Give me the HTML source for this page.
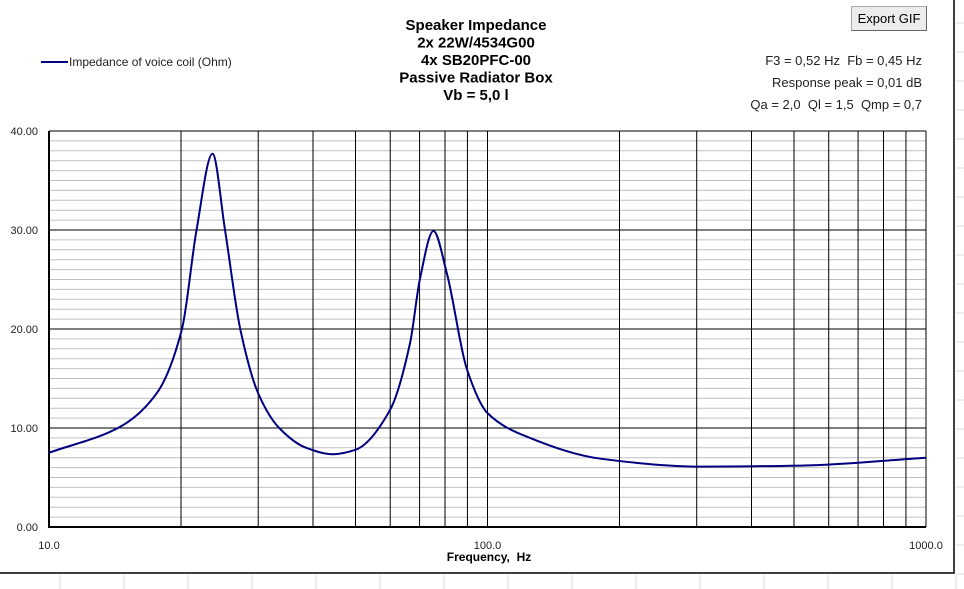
<!DOCTYPE html>
<html><head><meta charset="utf-8"><style>
body{margin:0;width:964px;height:589px;overflow:hidden;background:#fff;font-family:"Liberation Sans",sans-serif}
svg{position:absolute;left:0;top:0}
.btn{position:absolute;left:851px;top:6px;width:76px;height:25px;background:#ececec;border:1px solid #aaa;border-right-color:#666;border-bottom-color:#666;box-sizing:border-box;font-size:13px;text-align:center;line-height:23px}
</style></head><body>
<svg id="c" width="964" height="589"></svg>
<div class="btn">Export GIF</div>
<script>
const freqs=[10,14.5,17.6,20.1,21.7,23.6,25.2,27.3,30,33.5,38.6,44.4,50,59.9,66.6,70.1,75.3,80.8,89.8,100,125,181,306,519,1000];
const imped=[7.5,10.1,13.5,20,30,37.7,30,20,13.5,10,8,7.35,7.8,11.8,18.6,25,29.9,25.6,15.9,11.5,9,6.9,6.1,6.2,7.0];
const yTicks=[0,10,20,30,40];
const yTickLabels=["0.00","10.00","20.00","30.00","40.00"];
const xLabelVals=[10,100,1000];
const xLabels=["10.0","100.0","1000.0"];
const NS="http://www.w3.org/2000/svg";
const svg=document.getElementById('c');
const L=49,R=926,T=131,B=527;
const xs=f=>L+(R-L)*Math.log10(f/10)/2;
const ys=v=>B-(B-T)*v/40;
function el(t,a,txt){const e=document.createElementNS(NS,t);for(const k in a)e.setAttribute(k,a[k]);if(txt!=null)e.textContent=txt;svg.appendChild(e);return e;}
for(let x=60;x<964;x+=64){const g=el('line',{x1:x,y1:575,x2:x,y2:589,stroke:'#ddd'});}
for(let y=23;y<575;y+=29){const g=el('line',{x1:956,y1:y,x2:964,y2:y,stroke:'#ddd'});}
const fr=el('path',{d:'M0 573 H954 V0',fill:'none',stroke:'#000','stroke-width':1.5});

for(let v=1;v<40;v++){if(v%10===0)continue;const g=el('line',{x1:L,y1:ys(v),x2:R,y2:ys(v),stroke:'#c0c0c0'});}
for(const v of [10,20,30,40]){const g=el('line',{x1:L,y1:ys(v),x2:R,y2:ys(v),stroke:'#000'});}
for(const d of [10,100]){for(let k=2;k<=10;k++){const x=xs(d*k);const g=el('line',{x1:x,y1:T,x2:x,y2:B,stroke:'#000','stroke-width':1});}}
const ax=el('path',{d:`M${L} ${T} V${B} H${R}`,fill:'none',stroke:'#000','stroke-width':2});

yTicks.forEach((v,i)=>{const t=el('text',{x:38,y:ys(v)+4,'font-size':11,'text-anchor':'end',fill:'#222'},yTickLabels[i]);});
xLabelVals.forEach((v,i)=>{const t=el('text',{x:xs(v),y:549,'font-size':11,'text-anchor':'middle',fill:'#222'},xLabels[i]);});
const xt=el('text',{x:489,y:561,'font-size':12,'font-weight':'bold','text-anchor':'middle','style':'white-space:pre'},'Frequency,  Hz');

// monotone cubic interpolation in pixel space
const X=freqs.map(xs),Y=imped.map(ys),n=X.length;
const dl=[];for(let i=0;i<n-1;i++)dl.push((Y[i+1]-Y[i])/(X[i+1]-X[i]));
const m=new Array(n);m[0]=dl[0];m[n-1]=dl[n-2];
for(let i=1;i<n-1;i++){if(dl[i-1]*dl[i]<=0)m[i]=0;else{const h0=X[i]-X[i-1],h1=X[i+1]-X[i];const w1=2*h1+h0,w2=h1+2*h0;m[i]=(w1+w2)/(w1/dl[i-1]+w2/dl[i]);}}
let d=`M${X[0]} ${Y[0]}`;
for(let i=0;i<n-1;i++){const h=X[i+1]-X[i];d+=` C${X[i]+h/3} ${Y[i]+m[i]*h/3} ${X[i+1]-h/3} ${Y[i+1]-m[i+1]*h/3} ${X[i+1]} ${Y[i+1]}`;}
const cv=el('path',{d,fill:'none',stroke:'#000080','stroke-width':2});

["Speaker Impedance","2x 22W/4534G00","4x SB20PFC-00","Passive Radiator Box","Vb = 5,0 l"].forEach((s,i)=>{const t=el('text',{x:476,y:30+i*17.5,'font-size':15,'font-weight':'bold','text-anchor':'middle'},s);});
const ll=el('line',{x1:41,y1:62,x2:68,y2:62,stroke:'#000080','stroke-width':2});

const lt=el('text',{x:69,y:66,'font-size':12,fill:'#222'},'Impedance of voice coil (Ohm)');

["F3 = 0,52 Hz  Fb = 0,45 Hz","Response peak = 0,01 dB","Qa = 2,0  Ql = 1,5  Qmp = 0,7"].forEach((s,i)=>{const t=el('text',{x:922,y:65+i*22,'font-size':13,'text-anchor':'end',fill:'#222',style:'white-space:pre'},s);});
</script>
</body></html>
